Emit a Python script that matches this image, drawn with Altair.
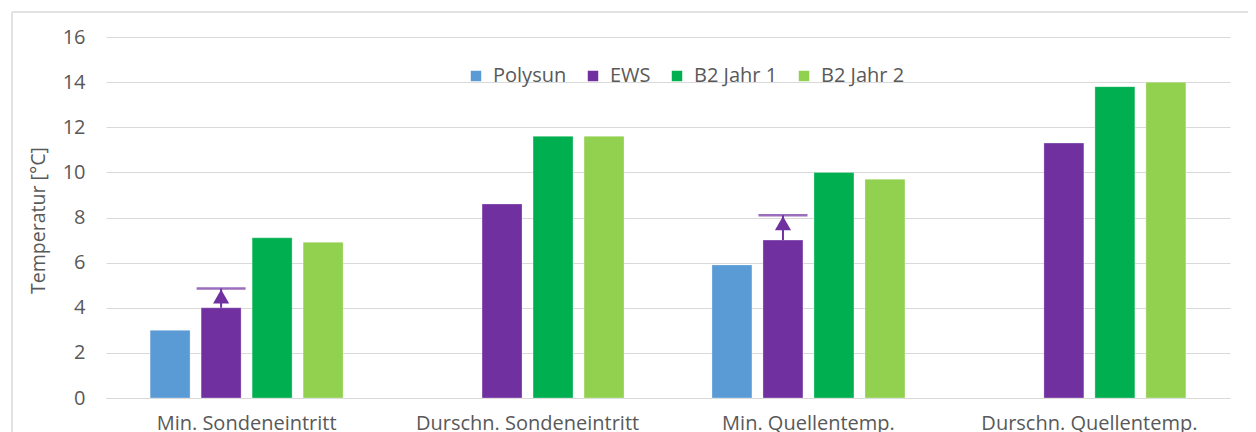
import altair as alt
import pandas as pd

categories = ["Min. Sondeneintritt", "Durschn. Sondeneintritt", "Min. Quellentemp.", "Durschn. Quellentemp."]
series = ["Polysun", "EWS", "B2 Jahr 1", "B2 Jahr 2"]
colors = ["#5b9bd5", "#7030a0", "#00b050", "#92d050"]
polysun = [3.0, None, 5.9, None]
ews = [4.0, 8.6, 7.0, 11.3]
b2_jahr1 = [7.1, 11.6, 10.0, 13.8]
b2_jahr2 = [6.9, 11.6, 9.7, 14.0]
arrow_cat = ["Min. Sondeneintritt", "Min. Quellentemp."]
arrow_from = [4.0, 7.0]
arrow_to = [4.85, 8.1]
y_ticks = [0, 2, 4, 6, 8, 10, 12, 14, 16]

rows = []
for s, vals in zip(series, [polysun, ews, b2_jahr1, b2_jahr2]):
    for c, v in zip(categories, vals):
        if v is not None:
            rows.append({"cat": c, "series": s, "value": v})
bars_df = pd.DataFrame(rows)
arrow_df = pd.DataFrame({"cat": arrow_cat, "series": ["EWS"] * 2, "from": arrow_from, "to": arrow_to})

FONT = "Open Sans"
GREY = "#595959"
GRID = "#d9d9d9"
FS = 20

x_enc = alt.X("cat:N", sort=categories, title=None,
              scale=alt.Scale(paddingInner=0.313, paddingOuter=0.157),
              axis=alt.Axis(labelAngle=0, labelFontSize=FS, labelColor=GREY, labelFont=FONT,
                            labelPadding=15, labelLimit=0, ticks=False, domainColor=GRID, domainWidth=1.2))
xo_enc = alt.XOffset("series:N", sort=series,
                     scale=alt.Scale(domain=series, paddingInner=0.216, paddingOuter=0))
y_scale = alt.Scale(domain=[0, 16], nice=False)

bars = alt.Chart(bars_df).mark_bar(stroke="white", strokeWidth=0.6, strokeOpacity=0.5).encode(
    x=x_enc,
    xOffset=xo_enc,
    y=alt.Y("value:Q", scale=y_scale, title="Temperatur [°C]",
            axis=alt.Axis(values=y_ticks, labelFontSize=FS, labelColor=GREY, labelFont=FONT,
                          labelPadding=21, ticks=False, domain=False, gridColor=GRID, gridWidth=1.2,
                          titleFontSize=19.5, titleFont=FONT, titleColor=GREY, titleFontWeight="normal",
                          titleX=-68, titleY=183, titleAngle=-90, titleAlign="center",
                          titleBaseline="middle")),
    color=alt.Color("series:N", sort=series,
                    scale=alt.Scale(domain=series, range=colors),
                    legend=alt.Legend(title=None, orient="none", legendX=360, legendY=29,
                                      direction="horizontal", symbolType="square", symbolSize=110,
                                      symbolStrokeWidth=0, labelFontSize=FS, labelFont=FONT,
                                      labelColor=GREY, columnPadding=16, labelOffset=7)),
)

stem = alt.Chart(arrow_df).mark_rule(color="#7030a0", strokeWidth=2).encode(
    x=alt.X("cat:N", sort=categories), xOffset=xo_enc,
    y=alt.Y("from:Q", scale=y_scale), y2="to:Q")

tri = alt.Chart(arrow_df).mark_point(shape="triangle-up", filled=True, opacity=1,
                                     color="#7030a0", size=260, yOffset=8).encode(
    x=alt.X("cat:N", sort=categories), xOffset=xo_enc,
    y=alt.Y("to:Q", scale=y_scale))

cap = alt.Chart(arrow_df).mark_tick(color="#7030a0", thickness=2.5, size=49, xOffset=2).encode(
    x=alt.X("cat:N", sort=categories), xOffset=xo_enc,
    y=alt.Y("to:Q", scale=y_scale))

frame_left = alt.Chart(pd.DataFrame({"k": [0]})).mark_rule(color=GRID, strokeWidth=1.5).encode(
    x=alt.value(-94), y=alt.value(-25), y2=alt.value(420))
frame_top = alt.Chart(pd.DataFrame({"k": [0]})).mark_rule(color=GRID, strokeWidth=1.5).encode(
    x=alt.value(-94), x2=alt.value(1160), y=alt.value(-25))

chart = alt.layer(bars, stem, tri, cap, frame_left, frame_top).properties(
    width=1124, height=361,
    autosize=alt.AutoSizeParams(type="none"),
    padding={"left": 98, "top": 29, "right": 18, "bottom": 34},
    background="white",
).configure_view(stroke=None)

chart.save("out.html", embed_options={"renderer": "svg", "actions": False})
